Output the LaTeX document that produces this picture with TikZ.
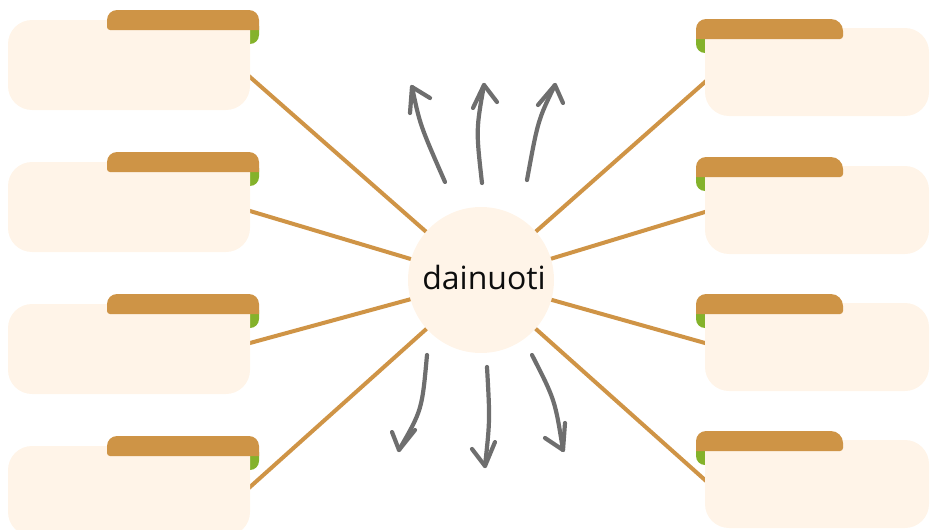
\documentclass[tikz,border=0pt]{standalone}
\usepackage{fontspec}
\newfontfamily\labelfont{Open Sans}
\definecolor{bodyc}{HTML}{FFF4E8}
\definecolor{tabc}{HTML}{CE9446}
\definecolor{linec}{HTML}{CF9446}
\definecolor{greenc}{HTML}{84B22B}
\definecolor{arrowc}{HTML}{6E6E6E}
\begin{document}
\begin{tikzpicture}[x=1pt,y=-1pt,
  spoke/.style={draw=linec,line width=4pt,shorten <=-6pt},
  handarrow/.style={draw=arrowc,line width=4.2pt,line cap=round,line join=round},
  hub/.style={circle,fill=bodyc,minimum size=146pt,inner sep=0pt,font=\labelfont\fontsize{32}{38}\selectfont,text=black!95}]
\useasboundingbox (0,0) rectangle (930,530);
\node[hub] (c) at (481,280) {};
% anchors
\coordinate (l1) at (250,77);
\coordinate (l2) at (250,211);
\coordinate (l3) at (250,343);
\coordinate (l4) at (250,487);
\coordinate (r1) at (705,82);
\coordinate (r2) at (705,212);
\coordinate (r3) at (705,343);
\coordinate (r4) at (705,480);
\foreach \p in {l1,l2,l3,l4,r1,r2,r3,r4} \draw[spoke] (\p) -- (c);
% left boxes
\foreach \dy in {0,142,284,426}{
  \fill[greenc] (250,26+\dy) -- (259,26+\dy) -- (259,35+\dy) arc[start angle=0,end angle=90,radius=9] -- cycle;
  \fill[bodyc] (250,20+\dy) -- (32,20+\dy) arc[start angle=-90,end angle=-180,radius=24]
    -- (8,86+\dy) arc[start angle=180,end angle=90,radius=24]
    -- (226,110+\dy) arc[start angle=90,end angle=0,radius=24] -- cycle;
  \fill[tabc] (259,30+\dy) -- (259,20+\dy) arc[start angle=0,end angle=-90,radius=10]
    -- (117,10+\dy) arc[start angle=-90,end angle=-180,radius=10]
    -- (107,27+\dy) arc[start angle=180,end angle=90,radius=3] -- cycle;
}
% right boxes
\foreach \dy in {0,138,275,412}{
  \fill[greenc] (705,35+\dy) -- (705,53+\dy) arc[start angle=90,end angle=180,radius=9] -- (696,35+\dy) -- cycle;
  \fill[bodyc] (705,28+\dy) -- (905,28+\dy) arc[start angle=-90,end angle=0,radius=24]
    -- (929,92+\dy) arc[start angle=0,end angle=90,radius=24]
    -- (729,116+\dy) arc[start angle=90,end angle=180,radius=24] -- cycle;
  \fill[tabc] (696,39+\dy) -- (696,29+\dy) arc[start angle=180,end angle=270,radius=10]
    -- (831,19+\dy) arc[start angle=270,end angle=360,radius=12]
    -- (843,36+\dy) arc[start angle=0,end angle=90,radius=3] -- cycle;
}
\node[hub,fill=none] (ct) at (484,277) {dainuoti};
% arrows up
\draw[handarrow] (445,182) .. controls (420,125) .. (412,87);
\draw[handarrow] (410,113) -- (412,87) -- (430,98);
\draw[handarrow] (482,183) .. controls (476,130) .. (484,85);
\draw[handarrow] (473,108) -- (484,85) -- (497,102);
\draw[handarrow] (527,180) .. controls (538,120) .. (555,85);
\draw[handarrow] (538,105) -- (555,85) -- (563,103);
% arrows down
\draw[handarrow] (427,355) .. controls (422,410) .. (399,450);
\draw[handarrow] (392,432) -- (399,450) -- (415,430);
\draw[handarrow] (487,367) .. controls (490,420) .. (485,466);
\draw[handarrow] (472,449) -- (485,466) -- (495,442);
\draw[handarrow] (532,355) .. controls (555,400) .. (563,450);
\draw[handarrow] (545,438) -- (563,450) -- (565,423);
\end{tikzpicture}
\end{document}
